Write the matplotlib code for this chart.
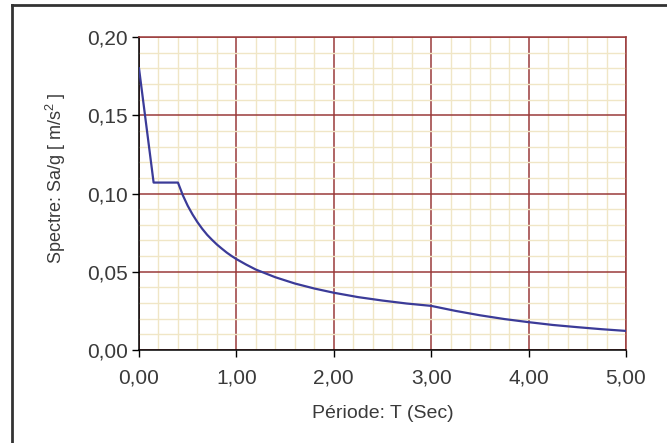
import matplotlib
matplotlib.use("Agg")
import matplotlib.pyplot as plt
from matplotlib.lines import Line2D
from matplotlib.ticker import MultipleLocator, FuncFormatter

# Data
periods = [0.0, 0.15, 0.4, 0.45, 0.5, 0.55, 0.6, 0.65, 0.7, 0.75, 0.8, 0.85, 0.9,
           0.95, 1.0, 1.1, 1.2, 1.4, 1.6, 1.8, 2.0,
           2.25, 2.5, 2.75, 3.0, 3.25, 3.5, 3.75, 4.0, 4.25, 4.5, 4.75, 5.0]
spectre = [0.180, 0.107, 0.107, 0.0989, 0.0922, 0.0866, 0.0817, 0.0774, 0.0736,
           0.0704, 0.0674, 0.0648, 0.0623, 0.0601, 0.0581, 0.0546,
           0.0514, 0.0465, 0.0425, 0.0393, 0.0366, 0.0338, 0.0316, 0.0297, 0.0282,
           0.0250, 0.0222, 0.0198, 0.0178, 0.0160, 0.0146, 0.0133, 0.0122]
x_ticks = [0, 1, 2, 3, 4, 5]
y_ticks = [0.0, 0.05, 0.10, 0.15, 0.20]
x_label = "Période: T (Sec)"
y_label = "Spectre: Sa/g [ m/s$^2$ ]"

plt.rcParams['font.family'] = ['Liberation Sans', 'DejaVu Sans']
plt.rcParams['mathtext.fontset'] = 'custom'
plt.rcParams['mathtext.rm'] = 'Liberation Sans'

fig = plt.figure(figsize=(6.67, 4.43), dpi=100)
fig.patch.set_facecolor('white')
ax = fig.add_axes([0.2084, 0.2099, 0.7301, 0.7065])

major_c = '#9a3a3a'
minor_c = '#f0e6c6'

ax.set_xlim(0, 5)
ax.set_ylim(0, 0.20)
ax.xaxis.set_minor_locator(MultipleLocator(0.2))
ax.yaxis.set_minor_locator(MultipleLocator(0.01))
ax.set_xticks(x_ticks)
ax.set_yticks(y_ticks)
ax.xaxis.set_major_formatter(FuncFormatter(lambda v, p: f"{v:.2f}".replace('.', ',')))
ax.yaxis.set_major_formatter(FuncFormatter(lambda v, p: f"{v:.2f}".replace('.', ',')))

ax.grid(which='minor', color=minor_c, linewidth=1.0)
ax.grid(which='major', color=major_c, linewidth=1.1)
ax.set_axisbelow(True)

ax.plot(periods, spectre, color='#3b3b98', linewidth=1.6, zorder=3)

for s in ['top', 'right']:
    ax.spines[s].set_color(major_c)
    ax.spines[s].set_linewidth(1.1)
for s in ['left', 'bottom']:
    ax.spines[s].set_color('black')
    ax.spines[s].set_linewidth(1.1)

ax.tick_params(which='major', direction='out', length=5, width=1, color='black',
               labelsize=15, labelcolor='#3a3a3a')
ax.tick_params(axis='x', which='major', pad=8)
ax.tick_params(axis='y', which='major', pad=3)
ax.tick_params(which='minor', length=0)

ax.set_xlabel(x_label, fontsize=14, color='#3a3a3a')
ax.set_ylabel(y_label, fontsize=13, color='#3a3a3a')
ax.xaxis.set_label_coords(0.5, -0.175)
ax.yaxis.set_label_coords(-0.145, 0.55)

# outer frame (left and top edges)
fig.add_artist(Line2D([0.018, 0.018], [0.0, 0.9887], transform=fig.transFigure,
                      color='#333333', linewidth=2))
fig.add_artist(Line2D([0.018, 1.0], [0.9887, 0.9887], transform=fig.transFigure,
                      color='#333333', linewidth=2))

fig.savefig("out.png", dpi=100)
